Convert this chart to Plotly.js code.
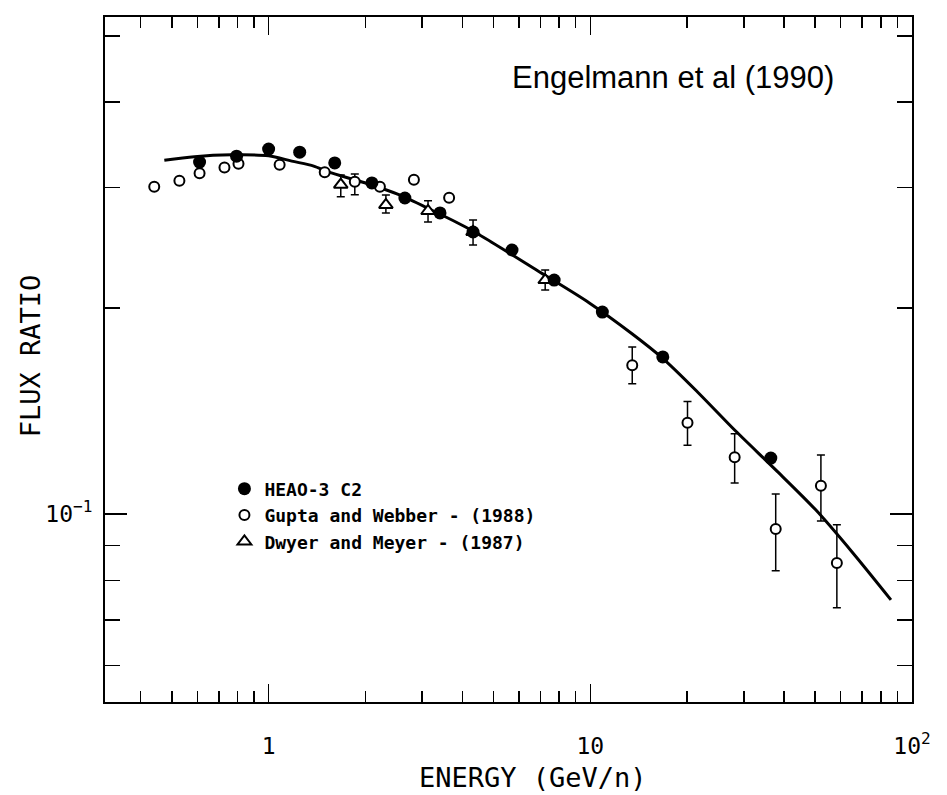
<!DOCTYPE html>
<html>
<head>
<meta charset="utf-8">
<script src="https://cdn.plot.ly/plotly-3.0.1.min.js"></script>
<style>html,body{margin:0;padding:0;background:#fff;}</style>
</head>
<body>
<div id="chart" style="width:947px;height:795px;"></div>
<script>
// HEAO-3 C2 (filled circles)
const heaoX = [0.610, 0.795, 1.0, 1.249, 1.605, 2.094, 2.652, 3.41, 4.32, 5.71, 7.72, 10.9, 16.8, 36.4];
const heaoY = [0.327, 0.3335, 0.3416, 0.338, 0.326, 0.3048, 0.2897, 0.2755, 0.2584, 0.2432, 0.2198, 0.1973, 0.1697, 0.1207];

// Gupta and Webber (1988) (open circles)
const guptaX  = [0.441, 0.528, 0.610, 0.729, 0.806, 1.082, 1.494, 1.853, 2.218, 2.829, 3.64, 13.5, 20.05, 28.1, 37.7, 52.1, 58.4];
const guptaY  = [0.301, 0.307, 0.315, 0.321, 0.325, 0.324, 0.316, 0.306, 0.301, 0.308, 0.290, 0.165, 0.136, 0.121, 0.0951, 0.110, 0.0848];
const guptaHi = [null, null, null, null, null, null, null, 0.314, null, null, null, 0.1755, 0.146, 0.131, 0.107, 0.122, 0.0964];
const guptaLo = [null, null, null, null, null, null, null, 0.293, null, null, null, 0.155, 0.126, 0.111, 0.0826, 0.0977, 0.0729];

// Dwyer and Meyer (1987) (open triangles)
const dwyerX  = [1.676, 2.315, 3.13, 4.32, 7.24];
const dwyerY  = [0.303, 0.283, 0.2773, 0.2584, 0.2198];
const dwyerHi = [0.313, 0.2926, 0.287, 0.269, 0.2274];
const dwyerLo = [0.291, 0.2755, 0.2673, 0.2474, 0.2126];

// Model curve
const fitX = [0.474, 0.588, 0.767, 1.0, 1.18, 1.381, 1.538, 1.99, 2.54, 3.22, 4.08, 4.71, 6.84, 9.93, 13.51, 16.76, 21.54, 28.3, 37.7, 50.2, 65.5, 86.0];
const fitY = [0.329, 0.333, 0.335, 0.334, 0.328, 0.3226, 0.316, 0.305, 0.293, 0.278, 0.263, 0.253, 0.227, 0.2035, 0.1833, 0.1690, 0.1508, 0.1322, 0.1160, 0.1014, 0.0877, 0.0749];

// Tick labels
const xTickVals = [1, 10, 100];
const xTickText = ['1', '10', '10<sup>2</sup>'];
const xMinorVals = [0.4, 0.5, 0.6, 0.7, 0.8, 0.9, 2, 3, 4, 5, 6, 7, 8, 9, 20, 30, 40, 50, 60, 70, 80, 90];
const yTickVals = [0.1];
const yTickText = ['10<sup>\u22121</sup>'];
const yMinorVals = [0.06, 0.07, 0.08, 0.09, 0.2, 0.3, 0.4, 0.5];

const seriesNames = ['HEAO-3 C2', 'Gupta and Webber - (1988)', 'Dwyer and Meyer - (1987)'];

function plus(v, hi) { return hi.map((h, i) => h === null ? null : h - v[i]); }
function minus(v, lo) { return lo.map((l, i) => l === null ? null : v[i] - l); }

const errStyle = {color: '#000', thickness: 1.5, width: 4};
const mono = 'DejaVu Sans Mono, monospace';

const traces = [
  {x: fitX, y: fitY, mode: 'lines', line: {color: '#000', width: 3, shape: 'spline', smoothing: 0.8},
   showlegend: false, hoverinfo: 'skip'},
  {x: guptaX, y: guptaY, mode: 'markers', name: seriesNames[1], legendrank: 2,
   marker: {symbol: 'circle', size: 10, color: '#fff', line: {color: '#000', width: 2}},
   error_y: Object.assign({type: 'data', symmetric: false, array: plus(guptaY, guptaHi), arrayminus: minus(guptaY, guptaLo)}, errStyle)},
  {x: dwyerX, y: dwyerY, mode: 'markers', name: seriesNames[2], legendrank: 3,
   marker: {symbol: 'triangle-up', size: 12, color: '#fff', line: {color: '#000', width: 2}},
   error_y: Object.assign({type: 'data', symmetric: false, array: plus(dwyerY, dwyerHi), arrayminus: minus(dwyerY, dwyerLo)}, errStyle)},
  {x: heaoX, y: heaoY, mode: 'markers', name: seriesNames[0], legendrank: 1,
   marker: {symbol: 'circle', size: 13, color: '#000', line: {color: '#000', width: 0}}}
];

const layout = {
  width: 947, height: 795,
  margin: {l: 105, r: 35, t: 17, b: 93},
  paper_bgcolor: '#fff', plot_bgcolor: '#fff',
  showlegend: true,
  legend: {x: 0.148, y: 0.338, xanchor: 'left', yanchor: 'top', bgcolor: 'rgba(0,0,0,0)',
           font: {family: mono, size: 18, color: '#000', weight: 'bold'}, tracegroupgap: 0, itemwidth: 30},
  xaxis: {
    type: 'log', range: [Math.log10(0.31), 2.0],
    showline: true, linecolor: '#000', linewidth: 2, mirror: 'ticks',
    showgrid: false, zeroline: false,
    ticks: 'inside', ticklen: 18, tickwidth: 1.5, tickcolor: '#000',
    tickmode: 'array', tickvals: xTickVals, ticktext: xTickText,
    tickfont: {family: mono, size: 23, color: '#000'}, ticklabelstandoff: 22,
    minor: {tickmode: 'array', tickvals: xMinorVals, ticks: 'inside', ticklen: 11, tickwidth: 1.5, tickcolor: '#000', showgrid: false}
  },
  yaxis: {
    type: 'log', range: [-1.2749, -0.2734],
    showline: true, linecolor: '#000', linewidth: 2, mirror: 'ticks',
    showgrid: false, zeroline: false,
    ticks: 'inside', ticklen: 22, tickwidth: 1.5, tickcolor: '#000',
    tickmode: 'array', tickvals: yTickVals, ticktext: yTickText,
    tickfont: {family: mono, size: 23, color: '#000'}, ticklabelstandoff: 6,
    minor: {tickmode: 'array', tickvals: yMinorVals, ticks: 'inside', ticklen: 15, tickwidth: 1.5, tickcolor: '#000', showgrid: false}
  },
  annotations: [
    {text: 'Engelmann et al (1990)', xref: 'paper', yref: 'paper', x: 0.704, y: 0.912,
     xanchor: 'center', yanchor: 'middle', showarrow: false,
     font: {family: 'Liberation Sans, Arial, sans-serif', size: 31, color: '#000'}},
    {text: 'ENERGY (GeV/n)', xref: 'paper', yref: 'paper', x: 0.530, y: -0.1096,
     xanchor: 'center', yanchor: 'middle', showarrow: false,
     font: {family: mono, size: 27, color: '#000'}},
    {text: 'FLUX RATIO', xref: 'paper', yref: 'paper', x: -0.093, y: 0.506, textangle: -90,
     xanchor: 'center', yanchor: 'middle', showarrow: false,
     font: {family: mono, size: 27, color: '#000'}}
  ]
};

Plotly.newPlot('chart', traces, layout, {displayModeBar: false, staticPlot: true});
</script>
</body>
</html>
